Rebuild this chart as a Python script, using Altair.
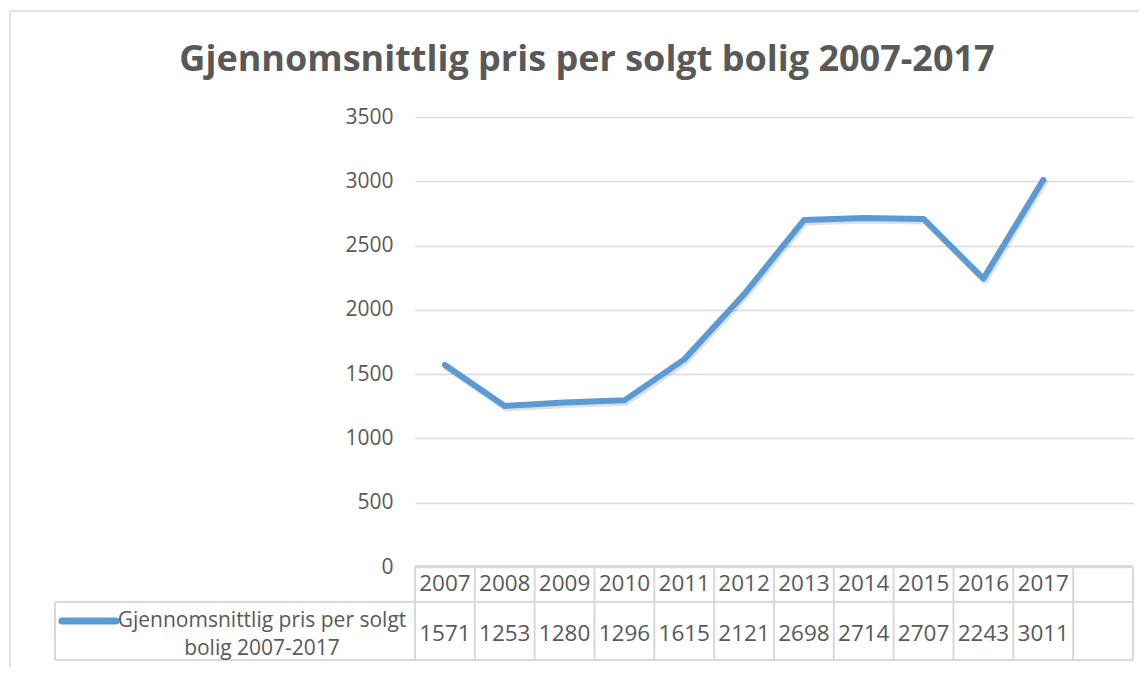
import altair as alt
import pandas as pd

years = [2007, 2008, 2009, 2010, 2011, 2012, 2013, 2014, 2015, 2016, 2017]
values = [1571, 1253, 1280, 1296, 1615, 2121, 2698, 2714, 2707, 2243, 3011]
y_ticks = [0, 500, 1000, 1500, 2000, 2500, 3000, 3500]
legend_lines = ["Gjennomsnittlig pris per solgt", "bolig 2007-2017"]
title_text = "Gjennomsnittlig pris per solgt bolig 2007-2017"

W, H = 718, 450
FONT = "Open Sans"
GRID = "#D9D9D9"
TXT = "#595959"
BLUE = "#5B9BD5"

df = pd.DataFrame({"year": years, "value": values})
df["label"] = df["value"].astype(str)
df["ylabel"] = df["year"].astype(str)
bounds = pd.DataFrame({"year": [years[0] - 0.5 + k for k in range(len(years) + 2)]})
one = pd.DataFrame({"k": [0]})

xscale = alt.Scale(domain=[years[0] - 0.5, years[-1] + 1.5], nice=False, zero=False)
yscale = alt.Scale(domain=[0, 3500], nice=False)

base = alt.Chart(df)

line_shadow = base.mark_line(
    color="#000000", opacity=0.12, strokeWidth=6, strokeCap="round", strokeJoin="round",
    xOffset=1.5, yOffset=2.5,
).encode(
    x=alt.X("year:Q", scale=xscale, axis=None),
    y=alt.Y("value:Q", scale=yscale),
)

line = base.mark_line(
    color=BLUE, strokeWidth=6, strokeCap="round", strokeJoin="round"
).encode(
    x=alt.X("year:Q", scale=xscale, axis=None),
    y=alt.Y(
        "value:Q",
        scale=yscale,
        axis=alt.Axis(
            values=y_ticks, format="d", title=None, domain=False, ticks=False,
            grid=True, gridColor=GRID, gridWidth=1.5,
            labelFont=FONT, labelFontSize=21, labelColor=TXT, labelPadding=22,
        ),
    ),
)

BOT = 543
vlines = alt.Chart(bounds).mark_rule(color=GRID, strokeWidth=2).encode(
    x=alt.X("year:Q", scale=xscale, axis=None),
    y=alt.value(H),
    y2=alt.value(BOT),
)
top_line = alt.Chart(one).mark_rule(color=GRID, strokeWidth=2).encode(
    x=alt.value(0), x2=alt.value(W), y=alt.value(H - 1)
)
mid_line = alt.Chart(one).mark_rule(color=GRID, strokeWidth=2).encode(
    x=alt.value(-360), x2=alt.value(W), y=alt.value(485)
)
bot_line = alt.Chart(one).mark_rule(color=GRID, strokeWidth=2).encode(
    x=alt.value(-360), x2=alt.value(W), y=alt.value(BOT)
)
left_line = alt.Chart(one).mark_rule(color=GRID, strokeWidth=2).encode(
    x=alt.value(-360), y=alt.value(485), y2=alt.value(BOT)
)

year_text = base.mark_text(font=FONT, fontSize=22.5, color=TXT, baseline="middle").encode(
    x=alt.X("year:Q", scale=xscale, axis=None), y=alt.value(467), text="ylabel:N"
)
val_text = base.mark_text(font=FONT, fontSize=22.5, color=TXT, baseline="middle").encode(
    x=alt.X("year:Q", scale=xscale, axis=None), y=alt.value(517), text="label:N"
)

legend_key = alt.Chart(one).mark_rule(color=BLUE, strokeWidth=7, strokeCap="round").encode(
    x=alt.value(-353), x2=alt.value(-299), y=alt.value(504)
)
legend_t1 = alt.Chart(pd.DataFrame({"t": [legend_lines[0]]})).mark_text(
    font=FONT, fontSize=21, color=TXT, baseline="middle"
).encode(x=alt.value(-153), y=alt.value(504), text="t:N")
legend_t2 = alt.Chart(pd.DataFrame({"t": [legend_lines[1]]})).mark_text(
    font=FONT, fontSize=21, color=TXT, baseline="middle"
).encode(x=alt.value(-153), y=alt.value(532), text="t:N")

title = alt.Chart(pd.DataFrame({"t": [title_text]})).mark_text(
    font=FONT, fontSize=36, fontWeight="bold", color=TXT, baseline="alphabetic"
).encode(x=alt.value(172), y=alt.value(-46), text="t:N")

frame_left = alt.Chart(one).mark_rule(color=GRID, strokeWidth=1.5).encode(
    x=alt.value(-405), y=alt.value(-106), y2=alt.value(560)
)
frame_top = alt.Chart(one).mark_rule(color=GRID, strokeWidth=1.5).encode(
    x=alt.value(-405), x2=alt.value(740), y=alt.value(-106)
)

chart = alt.layer(
    frame_left, frame_top, title,
    vlines, top_line, mid_line, bot_line, left_line,
    year_text, val_text, legend_key, legend_t1, legend_t2,
    line_shadow, line,
).properties(
    width=W, height=H,
    autosize=alt.AutoSizeParams(type="none"),
    padding={"left": 407, "top": 109, "right": 6, "bottom": 100},
    background="white",
).configure_view(stroke=None)

chart.save("out.html", embed_options={"renderer": "svg", "actions": False})
